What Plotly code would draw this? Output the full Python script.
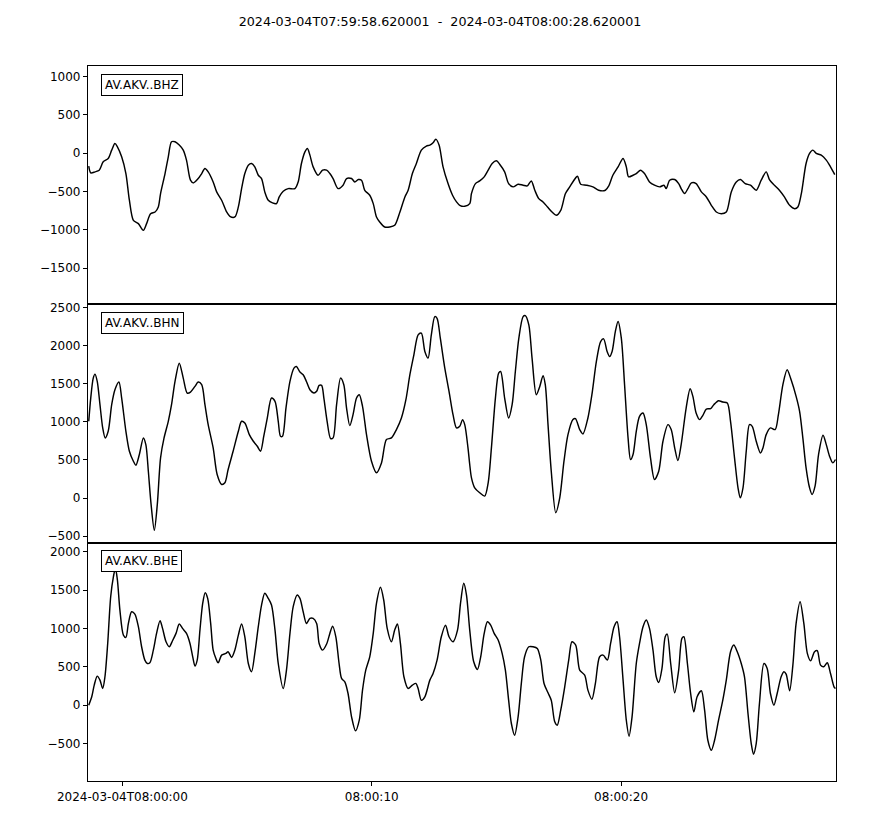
import pandas as pd
import plotly.graph_objects as go
from plotly.subplots import make_subplots

START = "2024-03-04 07:59:58.620001"
TITLE = "2024-03-04T07:59:58.620001  -  2024-03-04T08:00:28.620001"
LABELS = ["AV.AKV..BHZ", "AV.AKV..BHN", "AV.AKV..BHE"]
TICK_TIMES = ["2024-03-04 08:00:00", "2024-03-04 08:00:10", "2024-03-04 08:00:20"]
TICK_TEXT = ["2024-03-04T08:00:00", "08:00:10", "08:00:20"]

# ---- BHZ (seconds after start, counts)
bhz_t = [0.03, 0.11, 0.28, 0.45, 0.61, 0.81, 0.95, 1.08, 1.18, 1.35, 1.52, 1.66, 1.82, 2.02, 2.22,
         2.35, 2.51, 2.69, 2.82, 2.91, 3.09, 3.22, 3.35, 3.49, 3.66, 3.82, 3.95, 4.11, 4.22, 4.42,
         4.56, 4.69, 4.82, 5.02, 5.16, 5.36, 5.56, 5.69, 5.89, 6.03, 6.16, 6.29, 6.43, 6.56, 6.69,
         6.83, 6.96, 7.09, 7.23, 7.40, 7.56, 7.67, 7.83, 8.03, 8.30, 8.43, 8.56, 8.70, 8.80, 8.90,
         9.03, 9.23, 9.41, 9.57, 9.70, 9.83, 10.03, 10.23, 10.37, 10.57, 10.70, 10.84, 10.97, 11.10,
         11.30, 11.44, 11.57, 11.70, 11.90, 12.10, 12.30, 12.51, 12.71, 12.84, 13.01, 13.17, 13.37,
         13.57, 13.71, 13.84, 13.95, 14.08, 14.24, 14.44, 14.62, 14.78, 14.91, 15.11, 15.31,
         15.38, 15.54, 15.71, 15.89, 16.05, 16.21, 16.38, 16.51, 16.71, 16.87, 17.05, 17.25, 17.45,
         17.62, 17.78, 17.92, 18.08, 18.25, 18.43, 18.61, 18.78, 18.96, 19.15, 19.32, 19.49, 19.63,
         19.76, 19.99, 20.25, 20.48, 20.75, 20.88, 21.05, 21.26, 21.46, 21.59, 21.68, 21.86, 21.99,
         22.16, 22.32, 22.52, 22.72, 22.93, 23.10, 23.19, 23.33, 23.53, 23.69, 23.79, 23.93, 24.06,
         24.20, 24.39, 24.60, 24.80, 25.00, 25.20, 25.40, 25.60, 25.80, 26.00, 26.17, 26.36, 26.57,
         26.80, 27.00, 27.20, 27.33, 27.53, 27.73, 27.93, 28.14, 28.34, 28.47, 28.61, 28.80, 28.94,
         29.07, 29.21, 29.41, 29.61, 29.78, 29.95]
bhz_v = [-170, -257, -244, -222, -113, -70, 39, 126, 83, -48, -266, -614, -876, -919, -1006,
         -919, -789, -767, -701, -527, -266, -48, 148, 148, 105, 39, -91, -353, -388, -331,
         -266, -200, -244, -375, -505, -614, -767, -823, -832, -701, -462, -266, -157, -135, -179,
         -288, -331, -505, -614, -649, -658, -571, -497, -462, -462, -375, -135, 17, 61, -26,
         -179, -288, -222, -222, -266, -331, -462, -418, -331, -331, -375, -344, -353, -484,
         -549, -658, -832, -897, -963, -963, -941, -767, -571, -484, -266, -135, 39,
         92, 105, 135, 183, 105, -179, -397, -549, -636, -680, -693, -658,
         -527, -397, -362, -309, -222, -135, -100, -144, -244, -397, -440, -405, -418,
         -427, -362, -484, -593, -636, -702, -767, -810, -745, -527, -440, -353, -301,
         -405, -418, -440, -484, -484, -431, -288, -179, -70, -179, -309, -288, -266,
         -222, -266, -375, -418, -440, -418, -462, -353, -344, -397, -462, -527, -462,
         -388, -397, -505, -571, -680, -767, -789, -767, -505, -375, -344, -397, -418,
         -484, -353, -244, -344, -418, -484, -571, -680, -724, -702, -527, -135, -4,
         39, -4, -26, -91, -179, -279]

# ---- BHN
bhn_t = [0.03, 0.11, 0.21, 0.28, 0.37, 0.48, 0.59, 0.69, 0.81, 0.95, 1.08, 1.24, 1.35, 1.52, 1.66,
         1.82, 1.92, 2.06, 2.22, 2.32, 2.42, 2.53, 2.66, 2.78, 2.91, 3.05, 3.22, 3.35, 3.49, 3.66,
         3.82, 3.98, 4.11, 4.29, 4.42, 4.56, 4.69, 4.82, 5.02, 5.18, 5.36, 5.49, 5.62, 5.82, 6.03,
         6.16, 6.29, 6.47, 6.63, 6.79, 6.92, 7.05, 7.19, 7.36, 7.50, 7.63, 7.72, 7.80, 7.94, 8.10,
         8.26, 8.36, 8.50, 8.63, 8.76, 8.90, 9.06, 9.17, 9.27, 9.37, 9.46, 9.59, 9.73, 9.83, 9.97,
         10.13, 10.26, 10.37, 10.50, 10.63, 10.77, 10.88, 11.01, 11.17, 11.37, 11.57, 11.77, 11.97,
         12.17, 12.37, 12.57, 12.75, 12.91, 13.07, 13.24, 13.37, 13.51, 13.64, 13.77, 13.91, 14.00,
         14.13, 14.31, 14.48, 14.64, 14.78, 14.91, 15.02, 15.11, 15.24, 15.31,
         15.38, 15.51, 15.71, 15.91, 16.05, 16.18, 16.34, 16.47, 16.55, 16.71, 16.87, 17.01, 17.14,
         17.28, 17.45, 17.54, 17.68, 17.81, 17.98, 18.12, 18.25, 18.34, 18.45, 18.58, 18.76, 18.92,
         19.09, 19.25, 19.45, 19.55, 19.72, 19.85, 20.05, 20.21, 20.39, 20.56, 20.68, 20.82, 20.92,
         21.02, 21.15, 21.26, 21.39, 21.52, 21.66, 21.76, 21.86, 21.99, 22.12, 22.26, 22.39, 22.56,
         22.72, 22.89, 23.06, 23.26, 23.39, 23.53, 23.66, 23.79, 23.99, 24.15, 24.26, 24.39, 24.53,
         24.66, 24.80, 24.97, 25.10, 25.29, 25.46, 25.64, 25.77, 25.93, 26.07, 26.16, 26.27, 26.40,
         26.53, 26.64, 26.80, 26.97, 27.07, 27.20, 27.37, 27.56, 27.69, 27.87, 28.04, 28.20, 28.40,
         28.54, 28.67, 28.80, 28.94, 29.04, 29.16, 29.30, 29.48, 29.61, 29.74, 29.87, 29.98]
bhn_v = [1008, 1313, 1575, 1627, 1531, 1226, 921, 790, 877, 1226, 1422, 1523, 1313, 877, 615,
         484, 432, 572, 790, 702, 353, -83, -423, -83, 528, 790, 1008, 1226, 1531, 1771,
         1575, 1379, 1392, 1466, 1523, 1488, 1226, 964, 659, 310, 179, 201, 375, 615, 877,
         1008, 986, 833, 746, 681, 615, 812, 1051, 1313, 1270, 1008, 812, 812, 1182, 1531,
         1706, 1728, 1654, 1619, 1531, 1422, 1379, 1401, 1479, 1479, 1313, 1008, 781, 790, 1226,
         1575, 1488, 1182, 951, 1095, 1313, 1357, 1204, 833, 484, 332, 462, 768,
         790, 899, 1051, 1291, 1619, 1880, 2142, 2164, 1924, 1837, 2142, 2382, 2360,
         2099, 1706, 1401, 1095, 921, 942, 1030, 964, 659, 441,
         266, 135, 70, 26, 201, 659, 1313, 1641, 1662, 1313, 1051, 1226, 1662,
         2099, 2382, 2395, 2273, 1837, 1357, 1466, 1606, 1488, 964, 353, -192, 4,
         484, 833, 1030, 1043, 899, 842, 1051, 1357, 1793, 2055, 2090, 1924, 1858,
         1924, 2186, 2317, 2099, 1488, 790, 506, 572, 877, 1073, 1117, 964, 528,
         244, 353, 746, 964, 899, 659, 493, 702, 1182, 1435, 1335, 1117, 1030,
         1086, 1169, 1174, 1226, 1278, 1261, 1248, 1008, 528, 135, 4, 135, 615,
         964, 942, 746, 593, 659, 833, 921, 899, 1095, 1488, 1684, 1553, 1335,
         1139, 790, 397, 135, 48, 157, 572, 825, 702, 550, 462, 506]

# ---- BHE
bhe_t = [0.03, 0.15, 0.25, 0.37, 0.48, 0.59, 0.68, 0.79, 0.91, 1.02, 1.10, 1.18, 1.28, 1.42, 1.52,
         1.62, 1.75, 1.88, 2.02, 2.15, 2.28, 2.38, 2.48, 2.62, 2.75, 2.89, 2.99, 3.13, 3.26, 3.39,
         3.53, 3.66, 3.79, 3.95, 4.09, 4.20, 4.29, 4.38, 4.49, 4.60, 4.70, 4.80, 4.92, 5.02, 5.13,
         5.22, 5.36, 5.53, 5.62, 5.76, 5.89, 6.03, 6.16, 6.29, 6.43, 6.56, 6.69, 6.83, 6.96, 7.09,
         7.23, 7.36, 7.50, 7.63, 7.83, 7.96, 8.10, 8.23, 8.39, 8.50, 8.63, 8.76, 8.90, 9.03, 9.17,
         9.27, 9.41, 9.57, 9.70, 9.81, 9.94, 10.07, 10.17, 10.30, 10.43, 10.57, 10.73, 10.88, 11.01,
         11.14, 11.30, 11.44, 11.57, 11.73, 11.86, 12.00, 12.17, 12.30, 12.41, 12.53, 12.67, 12.84,
         13.01, 13.15, 13.24, 13.37, 13.51, 13.71, 13.84, 14.00, 14.17, 14.34, 14.48, 14.64, 14.82,
         14.94, 15.07, 15.18, 15.31,
         15.47, 15.62, 15.75, 15.89, 16.02, 16.15, 16.29, 16.45, 16.61, 16.74, 16.87, 16.98, 17.11,
         17.25, 17.38, 17.51, 17.68, 17.85, 18.02, 18.16, 18.29, 18.45, 18.58, 18.72, 18.82, 18.96,
         19.12, 19.28, 19.41, 19.56, 19.72, 19.92, 20.05, 20.21, 20.35, 20.52, 20.66, 20.83, 20.96,
         21.10, 21.22, 21.32, 21.46, 21.59, 21.70, 21.82, 21.99, 22.12, 22.26, 22.39, 22.52, 22.66,
         22.79, 22.89, 23.02, 23.15, 23.23, 23.37, 23.53, 23.69, 23.82, 23.90, 24.04, 24.17, 24.30,
         24.43, 24.60, 24.73, 24.86, 25.00, 25.13, 25.29, 25.46, 25.60, 25.77, 25.90, 26.04, 26.20,
         26.33, 26.47, 26.60, 26.69, 26.80, 26.93, 27.11, 27.24, 27.37, 27.51, 27.64, 27.80, 27.91,
         28.00, 28.14, 28.27, 28.40, 28.56, 28.71, 28.85, 28.98, 29.14, 29.25, 29.38, 29.51, 29.65,
         29.78, 29.92, 29.98]
bhe_v = [0, 109, 261, 378, 326, 217, 370, 804, 1413, 1674, 1783, 1630, 1239, 913, 883,
         1065, 1217, 1187, 1022, 761, 587, 543, 552, 717, 935, 1100, 1000, 826, 761, 839,
         935, 1057, 1000, 935, 804, 630, 509, 587, 978, 1326, 1465, 1391, 1065, 717, 609,
         552, 652, 674, 696, 622, 717, 913, 1057, 891, 543, 435, 674, 1022, 1304, 1457,
         1391, 1304, 978, 543, 217, 457, 935, 1283, 1435, 1391, 1217, 1065, 1130, 1130, 1065,
         804, 717, 796, 935, 1030, 891, 543, 348, 304, 152, -152, -335, -196, 196,
         457, 630, 935, 1326, 1535, 1370, 1000, 826, 978, 1057, 804, 370, 217,
         261, 283, 217, 65, 109, 326, 413, 587, 891, 1043, 891, 826, 978,
         1326, 1587, 1435, 978,
         565, 465, 630, 935, 1087, 1043, 935, 848, 674, 457, 65, -239, -391,
         -152, 283, 630, 761, 761, 739, 587, 283, 161, 65, -217, -261, -65,
         239, 587, 826, 783, 457, 391, 196, 78, 283, 630, 652, 587, 804,
         1022, 1087, 891, 326, -196, -404, -152, 543, 804, 1022, 1109, 1000, 717,
         370, 296, 478, 891, 926, 543, 161, 457, 870, 891, 543, 152, -87,
         109, 187, -65, -457, -587, -457, -196, 65, 326, 696, 783, 696, 543,
         370, -109, -500, -639, -500, 22, 543, 478, 152, 0, 152, 370, 435,
         404, 187, 522, 1065, 1348, 1065, 674, 578, 696, 709, 522, 500, 552,
         413, 239, 217]

Y_RANGES = [[-1971, 1136], [-585, 2543], [-988, 2117]]
Y_TICKS = [[-1500, -1000, -500, 0, 500, 1000],
           [-500, 0, 500, 1000, 1500, 2000, 2500],
           [-500, 0, 500, 1000, 1500, 2000]]

start = pd.Timestamp(START)
def to_time(ts):
    return [start + pd.Timedelta(seconds=s) for s in ts]

FONT = "DejaVu Sans"
fig = make_subplots(rows=3, cols=1, shared_xaxes=True, vertical_spacing=0)
series = [(bhz_t, bhz_v), (bhn_t, bhn_v), (bhe_t, bhe_v)]
for i, (ts, vs) in enumerate(series):
    fig.add_trace(go.Scatter(x=to_time(ts), y=vs, mode="lines",
                             line=dict(color="black", width=1.45, shape="spline", smoothing=0.8),
                             showlegend=False, hoverinfo="skip"), row=i + 1, col=1)
    fig.update_yaxes(range=Y_RANGES[i], tickvals=Y_TICKS[i],
                     ticktext=[f"\u2212{abs(v)}" if v < 0 else str(v) for v in Y_TICKS[i]],
                     row=i + 1, col=1)
    yref = "y domain" if i == 0 else f"y{i + 1} domain"
    xref = "x domain" if i == 0 else f"x{i + 1} domain"
    fig.add_annotation(text=LABELS[i], xref=xref, yref=yref, x=0.018, y=0.968,
                       xanchor="left", yanchor="top", showarrow=False,
                       font=dict(family=FONT, size=12, color="black"),
                       bgcolor="white", bordercolor="black", borderwidth=1, borderpad=3)

x_range = [start, start + pd.Timedelta(seconds=30)]
fig.update_xaxes(range=x_range, showline=True, mirror=True, linecolor="black", linewidth=1.2,
                 showgrid=False, zeroline=False, ticks="", showticklabels=False)
fig.update_xaxes(row=3, col=1, ticks="outside", ticklen=4, tickcolor="black",
                 showticklabels=True, tickvals=[pd.Timestamp(t) for t in TICK_TIMES],
                 ticktext=TICK_TEXT, tickfont=dict(family=FONT, size=12, color="black"))
fig.update_yaxes(showline=True, mirror=True, linecolor="black", linewidth=1.2, showgrid=False,
                 zeroline=False, ticks="outside", ticklen=4, tickcolor="black",
                 tickfont=dict(family=FONT, size=12, color="black"))

fig.update_layout(
    width=880, height=825,
    margin=dict(l=88, r=44, t=66, b=44),
    paper_bgcolor="white", plot_bgcolor="white",
    title=dict(text=TITLE.replace(" ", "\u00a0"), x=0.5, xanchor="center", xref="container",
               y=1 - 22 / 825, yanchor="middle", yref="container",
               font=dict(family=FONT, size=12.7, color="black")),
)
fig.write_html("out.html")
